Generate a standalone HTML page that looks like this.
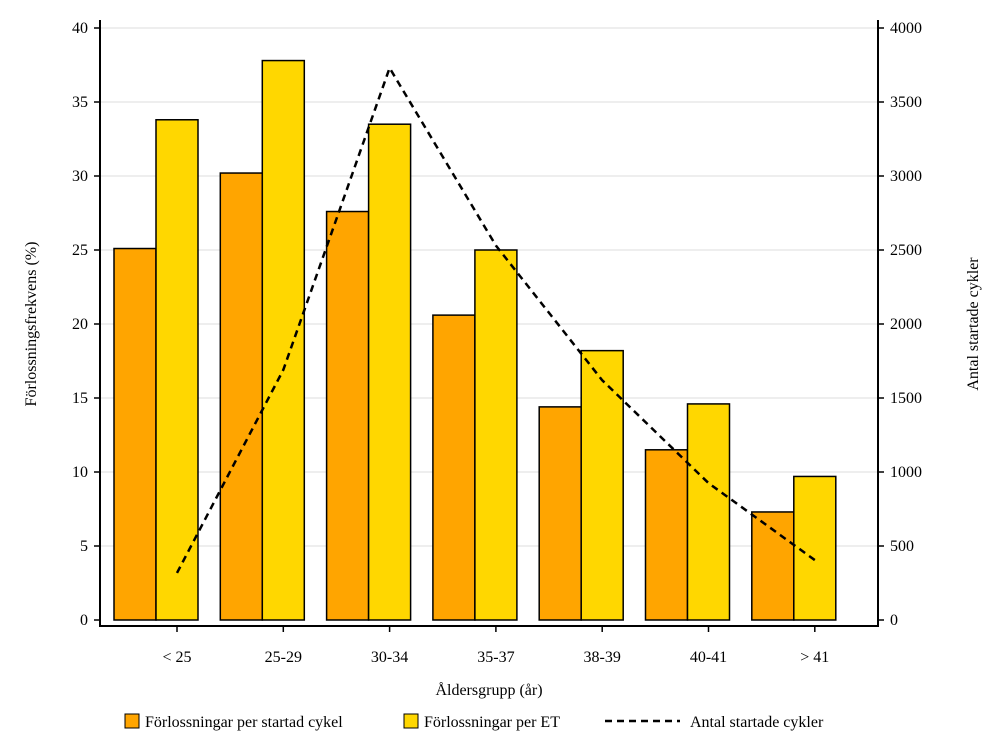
<!DOCTYPE html>
<html><head><meta charset="utf-8"><style>
body{margin:0;background:#fff;}
svg text{font-family:"Liberation Serif",serif;font-size:16px;fill:#000;}
</style></head><body>
<svg id="chart" width="1000" height="750"></svg>
<script>
const categories=["< 25","25-29","30-34","35-37","38-39","40-41","> 41"];
const perCycle=[25.1,30.2,27.6,20.6,14.4,11.5,7.3];
const perET=[33.8,37.8,33.5,25.0,18.2,14.6,9.7];
const cycles=[318,1690,3730,2530,1620,925,405];
const leftTicks=[0,5,10,15,20,25,30,35,40];
const rightTicks=[0,500,1000,1500,2000,2500,3000,3500,4000];
const svg=document.getElementById('chart');
const NS="http://www.w3.org/2000/svg";
function mk(t,a,txt){const e=document.createElementNS(NS,t);for(const k in a)e.setAttribute(k,a[k]);if(txt!==undefined)e.textContent=txt;svg.appendChild(e);return e;}
const X0=100,X1=878,Y0=620,Ytop=28;
const yL=v=>Y0-(v/40)*(Y0-Ytop);
const yR=v=>Y0-(v/4000)*(Y0-Ytop);
const step=106.3;
const xC=i=>177+i*step;
const bw=42;
// grid
leftTicks.forEach(t=>{if(t>0){const g=mk('line',{x1:X0,x2:X1,y1:yL(t),y2:yL(t),stroke:'#e8e8e8','stroke-width':1.5});
}});
// bars
categories.forEach((c,i)=>{
 const a=mk('rect',{x:xC(i)-21-bw,y:yL(perCycle[i]),width:bw,height:Y0-yL(perCycle[i]),fill:'#ffa500',stroke:'#000','stroke-width':1.5});
 
 const b=mk('rect',{x:xC(i)-21,y:yL(perET[i]),width:bw,height:Y0-yL(perET[i]),fill:'#ffd700',stroke:'#000','stroke-width':1.5});
 
});
// line
const pts=cycles.map((v,i)=>xC(i)+','+yR(v)).join(' ');
const ln=mk('polyline',{points:pts,fill:'none',stroke:'#000','stroke-width':2.5,'stroke-dasharray':'7,5'});

// axes frame
const ax=mk('path',{d:`M${X0},20 L${X0},626 L${X1},626 L${X1},20`,fill:'none',stroke:'#000','stroke-width':2});

leftTicks.forEach(t=>{mk('line',{x1:X0-6,x2:X0,y1:yL(t),y2:yL(t),stroke:'#000','stroke-width':1.5});
 const l=mk('text',{x:X0-12,y:yL(t)+5,'text-anchor':'end'},String(t));});
rightTicks.forEach(t=>{mk('line',{x1:X1,x2:X1+6,y1:yR(t),y2:yR(t),stroke:'#000','stroke-width':1.5});
 const l=mk('text',{x:X1+12,y:yR(t)+5,'text-anchor':'start'},String(t));});
categories.forEach((c,i)=>{mk('line',{x1:xC(i),x2:xC(i),y1:626,y2:632,stroke:'#000','stroke-width':1.5});
 const l=mk('text',{x:xC(i),y:662,'text-anchor':'middle'},c);});
let t=mk('text',{x:489,y:695,'text-anchor':'middle'},'Åldersgrupp (år)');
t=mk('text',{x:36,y:324,'text-anchor':'middle',transform:'rotate(-90 36 324)'},'Förlossningsfrekvens (%)');
t=mk('text',{x:978,y:324,'text-anchor':'middle',transform:'rotate(-90 978 324)'},'Antal startade cykler');
// legend
let r=mk('rect',{x:125,y:714,width:14,height:14,fill:'#ffa500',stroke:'#000'});
t=mk('text',{x:145,y:727},'Förlossningar per startad cykel');
r=mk('rect',{x:404,y:714,width:14,height:14,fill:'#ffd700',stroke:'#000'});
t=mk('text',{x:424,y:727},'Förlossningar per ET');
r=mk('line',{x1:605,x2:680,y1:721,y2:721,stroke:'#000','stroke-width':2.5,'stroke-dasharray':'7,5'});
t=mk('text',{x:690,y:727},'Antal startade cykler');
</script>
</body></html>
